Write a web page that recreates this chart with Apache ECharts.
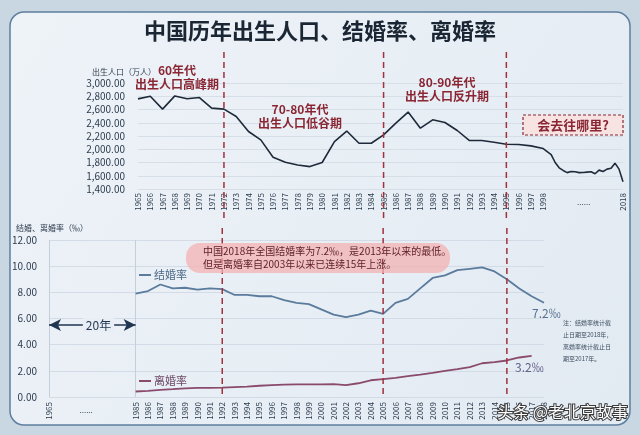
<!DOCTYPE html>
<html><head><meta charset="utf-8">
<script src="https://cdn.jsdelivr.net/npm/echarts@6/dist/echarts.min.js"></script>
<style>html,body{margin:0;padding:0;background:#c9d7e3}#c{width:640px;height:435px}</style>
</head><body><div id="c"></div>
<script>
const FONT = '"Noto Sans CJK SC", "Noto Sans", sans-serif';

// ---- Top chart: births (万人) ----
const birthYears = [1965,1966,1967,1968,1969,1970,1971,1972,1973,1974,1975,1976,1977,1978,1979,1980,1981,1982,1983,1984,1985,1986,1987,1988,1989,1990,1991,1992,1993,1994,1995,1996,1997,1998,1999,2000,2001,2002,2003,2004,2005,2006,2007,2008,2009,2010,2011,2012,2013,2014,2015,2016,2017,2018];
const births = [2760,2800,2606,2805,2763,2780,2621,2606,2495,2268,2141,1879,1803,1763,1738,1800,2116,2275,2091,2091,2217,2394,2561,2318,2444,2404,2283,2131,2131,2106,2076,2071,2051,2010,1965,1920,1800,1720,1680,1647,1665,1660,1647,1650,1655,1660,1630,1685,1665,1700,1712,1790,1700,1510];
const birthTickLabels = ['1965','1966','1967','1968','1969','1970','1971','1972','1973','1974','1975','1976','1977','1978','1979','1980','1981','1982','1983','1984','1985','1986','1987','1988','1989','1990','1991','1992','1993','1994','1995','1996','1997','1998'];
const birthEndLabel = '2018';
const birthDividerYears = [1972, 1985, 1995];

// ---- Bottom chart: marriage / divorce rate (‰) ----
const rateCategories = ['1965','','','','','','','1985','1986','1987','1988','1989','1990','1991','1992','1993','1994','1995','1996','1997','1998','1999','2000','2001','2002','2003','2004','2005','2006','2007','2008','2009','2010','2011','2012','2013','2014','2015','2016','2017','2018'];
const marriageYears = ['1985','1986','1987','1988','1989','1990','1991','1992','1993','1994','1995','1996','1997','1998','1999','2000','2001','2002','2003','2004','2005','2006','2007','2008','2009','2010','2011','2012','2013','2014','2015','2016','2017','2018'];
const marriage = [7.9,8.1,8.6,8.3,8.35,8.2,8.3,8.25,7.8,7.8,7.7,7.7,7.4,7.2,7.1,6.7,6.3,6.1,6.3,6.6,6.35,7.2,7.5,8.3,9.1,9.3,9.7,9.8,9.9,9.6,9.0,8.3,7.7,7.2];
const divorceYears = ['1985','1986','1987','1988','1989','1990','1991','1992','1993','1994','1995','1996','1997','1998','1999','2000','2001','2002','2003','2004','2005','2006','2007','2008','2009','2010','2011','2012','2013','2014','2015','2016','2017'];
const divorce = [0.42,0.47,0.55,0.6,0.66,0.69,0.7,0.72,0.76,0.8,0.86,0.9,0.94,0.96,0.96,0.96,0.98,0.9,1.05,1.28,1.37,1.46,1.59,1.71,1.85,2.0,2.13,2.29,2.58,2.67,2.79,3.02,3.15];
const rateDividerYears = ['1992','2005','2015'];

// broken axis: years after 1998 are compressed
function xPos(y) { return y <= 1998 ? y - 1965 : 33 + (y - 1998) * 0.325; }
const X_MAX = xPos(2018);

const chart = echarts.init(document.getElementById('c'), null, {renderer: 'canvas'});
const axisTxt = '#2c3b4d';

chart.setOption({
  backgroundColor: '#c9d7e3',
  animation: false,
  textStyle: {fontFamily: FONT},
  grid: [
    {left: 138, right: 640 - 623, top: 83, height: 106},
    {left: 49, right: 96, top: 240, height: 157}
  ],
  xAxis: [
    {type: 'value', gridIndex: 0, min: 0, max: X_MAX, interval: 1,
     axisLine: {show: false}, axisTick: {show: false}, splitLine: {show: false},
     axisLabel: {rotate: 90, fontSize: 8, color: axisTxt, margin: 4, showMaxLabel: true, showMinLabel: true,
       formatter: v => {
         if (Math.abs(v - X_MAX) < 1e-6) return birthEndLabel;
         if (Number.isInteger(v) && v < birthTickLabels.length) return birthTickLabels[v];
         return '';
       }}},
    {type: 'category', gridIndex: 1, data: rateCategories, boundaryGap: false,
     axisLine: {show: false}, axisTick: {show: false},
     splitLine: {show: true, interval: (i, v) => v === '1965' || v === '1985', lineStyle: {color: '#c3cfdb'}},
     axisLabel: {rotate: 90, fontSize: 8, color: axisTxt, margin: 5, interval: 0}}
  ],
  yAxis: [
    {type: 'value', gridIndex: 0, min: 1400, max: 3000, interval: 200,
     axisLine: {show: false}, axisTick: {show: false},
     splitLine: {lineStyle: {color: '#d6dfe8'}},
     axisLabel: {fontSize: 10, color: axisTxt, margin: 13,
       formatter: v => v.toLocaleString('en-US', {minimumFractionDigits: 2, maximumFractionDigits: 2})}},
    {type: 'value', gridIndex: 1, min: 0, max: 12, interval: 2,
     axisLine: {show: false}, axisTick: {show: false},
     splitLine: {lineStyle: {color: '#d3dce6'}},
     axisLabel: {fontSize: 10, color: axisTxt, margin: 12, formatter: v => v.toFixed(2)}}
  ],
  series: [
    {type: 'line', xAxisIndex: 0, yAxisIndex: 0, showSymbol: false, symbol: 'none',
     lineStyle: {color: '#1e2a39', width: 1.6},
     data: birthYears.map((y, i) => [xPos(y), births[i]])},
    {type: 'line', xAxisIndex: 1, yAxisIndex: 1, showSymbol: false, symbol: 'none',
     lineStyle: {color: '#5a7b9c', width: 1.8},
     data: marriageYears.map((y, i) => [y, marriage[i]]),
     markLine: {silent: true, symbol: ['arrow', 'arrow'], symbolSize: [9, 12],
       lineStyle: {color: '#1f3550', width: 1.6, type: 'solid'},
       label: {show: false},
       data: [[{coord: ['1965', 5.5]}, {coord: ['1985', 5.5]}]]}},
    {type: 'line', xAxisIndex: 1, yAxisIndex: 1, showSymbol: false, symbol: 'none',
     lineStyle: {color: '#8a4a6c', width: 1.8},
     data: divorceYears.map((y, i) => [y, divorce[i]])}
  ]
});

const g = [];
// panel
g.push({type: 'rect', z: -10, shape: {x: 10, y: 12, width: 620, height: 413, r: 14},
  style: {fill: new echarts.graphic.LinearGradient(0, 0, 1, 1, [{offset: 0, color: '#eef3f8'}, {offset: 1, color: '#e2eaf2'}]),
    stroke: '#5f7f9f', lineWidth: 1.5}});
// title
g.push({type: 'text', x: 320, y: 31, style: {text: '中国历年出生人口、结婚率、离婚率', font: 'bold 22px ' + FONT,
  fill: '#1b2634', align: 'center', verticalAlign: 'middle'}});
// axis names
g.push({type: 'text', x: 92, y: 72, style: {text: '出生人口（万人）', font: '8px ' + FONT, fill: axisTxt, verticalAlign: 'middle'}});
g.push({type: 'text', x: 16, y: 228, style: {text: '结婚、离婚率（‰）', font: '8px ' + FONT, fill: axisTxt, verticalAlign: 'middle'}});
// dotted labels
g.push({type: 'text', x: chart.convertToPixel({xAxisIndex: 0}, 36.3), y: 202,
  style: {text: '......', font: '8px ' + FONT, fill: axisTxt, align: 'center', verticalAlign: 'middle'}});
g.push({type: 'text', x: chart.convertToPixel({xAxisIndex: 1}, 3), y: 410,
  style: {text: '......', font: '8px ' + FONT, fill: axisTxt, align: 'center', verticalAlign: 'middle'}});
// "20年" label centred on the arrow
const arrowMid = chart.convertToPixel({xAxisIndex: 1, yAxisIndex: 1}, [3.5, 5.5]);
g.push({type: 'text', z: 10, x: arrowMid[0], y: arrowMid[1], style: {text: '20年', font: '12px ' + FONT, fill: '#1f3550',
  align: 'center', verticalAlign: 'middle', backgroundColor: '#e8eef4', padding: [1, 3]}});
// dashed dividers
const dash = {stroke: '#a2303d', lineWidth: 1.5, lineDash: [6, 4]};
birthDividerYears.forEach(y => {
  const x = chart.convertToPixel({xAxisIndex: 0}, xPos(y));
  g.push({type: 'line', shape: {x1: x, y1: 52, x2: x, y2: 222}, style: dash, z: 5});
});
rateDividerYears.forEach(y => {
  const x = chart.convertToPixel({xAxisIndex: 1}, y);
  g.push({type: 'line', shape: {x1: x, y1: 228, x2: x, y2: 398}, style: dash, z: 5});
});
// era annotations
const era = (x, y, a, b) => {
  g.push({type: 'text', x: x, y: y, z: 6, style: {text: a + '\n' + b, font: 'bold 12px ' + FONT, fill: '#8a2633',
    align: 'center', verticalAlign: 'middle', lineHeight: 14}});
};
era(177, 77, '60年代', '出生人口高峰期');
era(300, 116, '70-80年代', '出生人口低谷期');
era(447, 89, '80-90年代', '出生人口反升期');
// question box
g.push({type: 'rect', z: 6, shape: {x: 523, y: 115, width: 100, height: 20},
  style: {fill: '#f8e3e3', stroke: '#8a2633', lineWidth: 1.2, lineDash: [3, 2]}});
g.push({type: 'text', z: 7, x: 573, y: 125, style: {text: '会去往哪里?', font: 'bold 13px ' + FONT, fill: '#8a2633',
  align: 'center', verticalAlign: 'middle'}});
// bottom annotation box
g.push({type: 'rect', z: 6, shape: {x: 186, y: 243, width: 264, height: 30, r: 14},
  style: {fill: 'rgba(243,178,178,0.75)'}});
g.push({type: 'text', z: 7, x: 203, y: 258, style: {text: '中国2018年全国结婚率为7.2‰，是2013年以来的最低。\n但是离婚率自2003年以来已连续15年上涨。',
  font: '10px ' + FONT, fill: '#5c1d24', verticalAlign: 'middle', lineHeight: 13}});
// legend-like labels
g.push({type: 'line', shape: {x1: 139, y1: 275, x2: 151, y2: 275}, style: {stroke: '#5a7b9c', lineWidth: 2}});
g.push({type: 'text', x: 154, y: 275, style: {text: '结婚率', font: '11px ' + FONT, fill: '#4d6a88', verticalAlign: 'middle'}});
g.push({type: 'line', shape: {x1: 139, y1: 381, x2: 151, y2: 381}, style: {stroke: '#8a4a6c', lineWidth: 2}});
g.push({type: 'text', x: 154, y: 381, style: {text: '离婚率', font: '11px ' + FONT, fill: '#6e4a66', verticalAlign: 'middle'}});
// end value labels
g.push({type: 'text', x: 532, y: 313, style: {text: '7.2‰', font: '12px ' + FONT, fill: '#56708f', verticalAlign: 'middle'}});
g.push({type: 'text', x: 515, y: 367, style: {text: '3.2‰', font: '12px ' + FONT, fill: '#64608a', verticalAlign: 'middle'}});
// note
g.push({type: 'text', x: 563, y: 341, style: {text: '注：结婚率统计截\n止日期至2018年，\n离婚率统计截止日\n期至2017年。',
  font: '6px ' + FONT, fill: '#3e4f61', verticalAlign: 'middle', lineHeight: 12}});
// watermark credit
g.push({type: 'text', x: 628, y: 412, z: 20, style: {text: '头条 @老北京故事', font: '16px ' + FONT, fill: '#ffffff',
  stroke: '#3a3a3a', lineWidth: 2, align: 'right', verticalAlign: 'middle'}});

chart.setOption({graphic: g});
</script></body></html>
